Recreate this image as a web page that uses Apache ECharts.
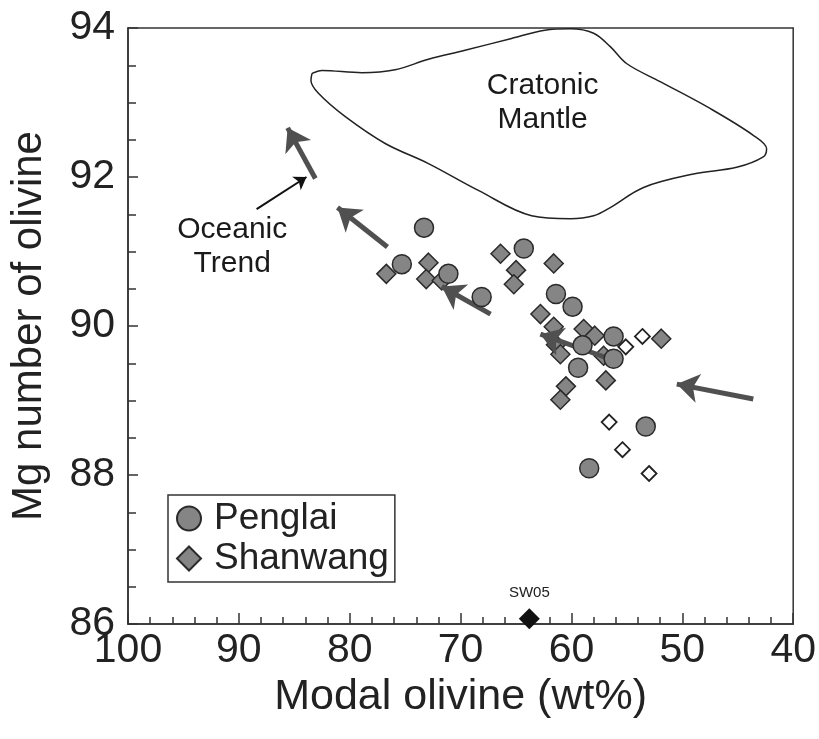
<!DOCTYPE html>
<html>
<head>
<meta charset="utf-8">
<title>Mg number of olivine vs modal olivine</title>
<script src="https://cdn.jsdelivr.net/npm/echarts@6/dist/echarts.min.js"></script>
</head>
<body style="margin:0;background:#fff">
<div id="main" style="width:819px;height:739px"></div>
<script>
// modal olivine (wt%), Mg number
var penglai = [
  [75.3, 90.83], [73.3, 91.32], [71.1, 90.70], [68.1, 90.39], [64.3, 91.04],
  [61.4, 90.43], [59.9, 90.26], [56.2, 89.86], [59.0, 89.74], [56.2, 89.56],
  [59.4, 89.44], [53.3, 88.65], [58.4, 88.09]
];
var shanwang = [
  [76.7, 90.70], [72.9, 90.85], [73.1, 90.63], [71.7, 90.61], [66.4, 90.97],
  [65.0, 90.75], [65.2, 90.56], [61.6, 90.84], [62.8, 90.16], [61.6, 89.99],
  [58.9, 89.96], [57.9, 89.87], [61.4, 89.75], [61.0, 89.62], [57.1, 89.60],
  [51.9, 89.83], [56.9, 89.27], [60.5, 89.19], [61.0, 89.01]
];
var shanwangOpen = [
  [53.6, 89.86], [55.1, 89.72], [56.6, 88.71], [55.4, 88.34], [53.0, 88.02]
];
var sw05 = [[63.8, 86.07]];

var cratonicMantle = [
  [83.4, 93.39], [82.5, 93.43], [78.9, 93.40], [75.9, 93.44], [72.9, 93.58],
  [69.6, 93.70], [65.4, 93.86], [62.4, 93.97], [60.1, 93.99], [58.0, 93.93],
  [56.5, 93.75], [55.0, 93.52], [52.0, 93.28], [47.5, 92.92], [43.6, 92.56],
  [42.4, 92.38], [42.7, 92.27], [45.1, 92.13], [49.0, 92.04], [53.5, 91.86],
  [56.5, 91.59], [58.0, 91.48], [60.1, 91.44], [63.6, 91.48], [68.4, 91.82],
  [72.9, 92.18], [76.8, 92.45], [80.4, 92.81], [82.8, 93.12], [83.5, 93.30],
  [83.4, 93.39]
];

// trend arrows: [start, tip]
var trendArrows = [
  [[83.1, 91.98], [85.6, 92.66]],
  [[76.6, 91.06], [81.1, 91.59]],
  [[67.3, 90.16], [71.7, 90.53]],
  [[56.2, 89.54], [62.8, 89.89]],
  [[43.6, 89.02], [50.5, 89.22]]
];
var pointerArrow = [[[88.4, 91.57], [83.9, 92.00]]];

var notes = [
  { name: 'Cratonic\nMantle', value: [62.6, 93.0] },
  { name: 'Oceanic\nTrend', value: [90.6, 91.07] }
];

var font = 'Liberation Sans, Arial, Helvetica, sans-serif';
var chart = echarts.init(document.getElementById('main'));

chart.setOption({
  backgroundColor: '#fff',
  textStyle: { fontFamily: font },
  grid: { left: 128, right: 24, top: 28, bottom: 115, show: true, borderColor: '#333', borderWidth: 1.5 },
  legend: {
    data: ['Penglai', 'Shanwang'],
    orient: 'vertical',
    left: 168, top: 495,
    itemWidth: 24, itemHeight: 24, itemGap: 3,
    padding: [5, 6, 5, 8],
    borderColor: '#333', borderWidth: 1.5,
    selectedMode: false,
    textStyle: { fontSize: 37, color: '#222', fontFamily: font, padding: [0, 0, 0, 8] }
  },
  xAxis: {
    type: 'value', min: 40, max: 100, interval: 10, inverse: true,
    name: 'Modal olivine (wt%)', nameLocation: 'middle', nameGap: 43,
    nameTextStyle: { fontSize: 43, color: '#222', fontFamily: font },
    axisLine: { lineStyle: { color: '#333', width: 1.5 } },
    axisTick: { inside: true, length: 11, lineStyle: { color: '#333', width: 1.5 } },
    minorTick: { show: true, splitNumber: 5, length: 7, lineStyle: { color: '#333', width: 1.5 } },
    axisLabel: { fontSize: 41, color: '#222', margin: 6, fontFamily: font },
    splitLine: { show: false }
  },
  yAxis: {
    type: 'value', min: 86, max: 94, interval: 2,
    name: 'Mg number of olivine', nameLocation: 'middle', nameGap: 78,
    nameTextStyle: { fontSize: 42, color: '#222', fontFamily: font },
    axisLine: { lineStyle: { color: '#333', width: 1.5 } },
    axisTick: { inside: true, length: 10, lineStyle: { color: '#333', width: 1.5 } },
    minorTick: { show: true, splitNumber: 4, length: 8, lineStyle: { color: '#333', width: 1.5 } },
    axisLabel: { fontSize: 41, color: '#222', margin: 13, fontFamily: font },
    splitLine: { show: false }
  },
  series: [
    {
      name: 'Cratonic Mantle', type: 'line', data: cratonicMantle, smooth: 0.35,
      symbol: 'none', silent: true,
      lineStyle: { color: '#222', width: 1.5 }, z: 1
    },
    {
      name: 'Shanwang', type: 'scatter', data: shanwang, symbol: 'diamond', symbolSize: 19,
      itemStyle: { color: '#858585', borderColor: '#2a2a2a', borderWidth: 1.5, opacity: 1 }, z: 3
    },
    {
      name: 'Shanwang open', type: 'scatter', data: shanwangOpen, symbol: 'diamond', symbolSize: 15,
      itemStyle: { color: '#fff', borderColor: '#222', borderWidth: 1.8, opacity: 1 }, z: 3
    },
    {
      name: 'trends', type: 'lines', coordinateSystem: 'cartesian2d',
      data: trendArrows.map(function (a) { return { coords: a }; }),
      symbol: ['none', 'arrow'], symbolSize: 22, silent: true,
      lineStyle: { color: '#505050', width: 5, opacity: 1, curveness: 0 }, z: 4
    },
    {
      name: 'pointer', type: 'lines', coordinateSystem: 'cartesian2d',
      data: pointerArrow.map(function (a) { return { coords: a }; }),
      symbol: ['none', 'arrow'], symbolSize: 12, silent: true,
      lineStyle: { color: '#111', width: 2, opacity: 1, curveness: 0 }, z: 4
    },
    {
      name: 'Penglai', type: 'scatter', data: penglai, symbol: 'circle', symbolSize: 19,
      itemStyle: { color: '#858585', borderColor: '#2a2a2a', borderWidth: 1.5, opacity: 1 }, z: 5
    },
    {
      name: 'SW05', type: 'scatter', data: sw05, symbol: 'diamond', symbolSize: 21,
      itemStyle: { color: '#111', opacity: 1 }, z: 5,
      label: { show: true, formatter: 'SW05', position: 'top', distance: 8, fontSize: 15, color: '#222', fontFamily: font }
    },
    {
      name: 'notes', type: 'scatter', data: notes, symbolSize: 0, silent: true,
      itemStyle: { color: '#222', opacity: 1 },
      label: {
        show: true, formatter: '{b}', position: 'inside', fontSize: 30, lineHeight: 34,
        color: '#1a1a1a', textBorderWidth: 0, opacity: 1, fontFamily: font
      },
      z: 6
    }
  ]
});
</script>
</body>
</html>
